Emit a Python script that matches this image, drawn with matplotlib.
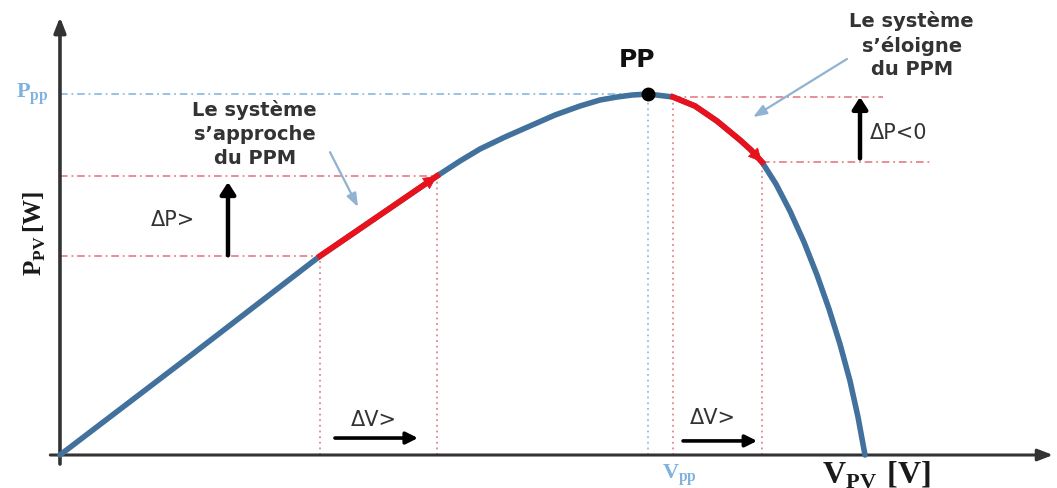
import matplotlib
matplotlib.use("Agg")
import matplotlib.pyplot as plt

# P-V characteristic of a PV generator (normalised: V / Voc, P / Ppp)
v_pv = [0.0, 0.1615, 0.3230, 0.3975, 0.4683, 0.4969, 0.5217, 0.5528,
        0.5839, 0.6149, 0.6460, 0.6708, 0.6919, 0.7106, 0.7304, 0.7615,
        0.7888, 0.8161, 0.8447, 0.8584, 0.8720, 0.8894, 0.9068, 0.9242,
        0.9404, 0.9553, 0.9689, 0.9814, 0.9913, 1.0]
p_pv = [0.0, 0.2742, 0.5512, 0.6648, 0.7729, 0.8144, 0.8476, 0.8809,
        0.9114, 0.9418, 0.9668, 0.9834, 0.9917, 0.9972, 1.0, 0.9917,
        0.9668, 0.9252, 0.8726, 0.8449, 0.8116, 0.7507, 0.6759, 0.5900,
        0.4986, 0.4044, 0.3075, 0.2050, 0.1053, 0.0]

# index of the maximum power point and of the two perturbation steps
i_pp = 14
step_left = (2, 4)     # the system approaches the MPP
step_right = (15, 20)  # the system moves away from the MPP

curve_color = "#41719c"
red = "#e8121c"
guide_red = "#e0707a"
guide_blue = "#7fb2de"
pointer = "#8fb3d1"
ink = "#333333"

plt.rcParams["mathtext.fontset"] = "custom"
plt.rcParams["mathtext.rm"] = "Liberation Serif"
plt.rcParams["mathtext.bf"] = "Liberation Serif:bold"
sans = ["DejaVu Sans"]

fig = plt.figure(figsize=(10.57, 4.89), dpi=100)
ax = fig.add_axes([0, 0, 1, 1])
ax.set_xlim(-0.0745, 1.2385)
ax.set_ylim(-0.0914, 1.2632)
ax.axis("off")

# axes with arrow heads
ax.annotate("", xy=(1.2335, 0), xytext=(-0.012, 0),
            arrowprops=dict(arrowstyle="-|>,head_length=0.9,head_width=0.35",
                            color="#333333", lw=2.2, shrinkA=0, shrinkB=0))
ax.annotate("", xy=(0, 1.213), xytext=(0, -0.025),
            arrowprops=dict(arrowstyle="-|>,head_length=0.9,head_width=0.35",
                            color="#333333", lw=2.6, shrinkA=0, shrinkB=0))

guide = dict(color=guide_red, lw=1.1, ls=(0, (5, 2.5, 1.2, 2.5)), zorder=1)
vguide = dict(color=guide_red, lw=1.1, ls=(0, (1.2, 2.5)), zorder=1)

# guides of the left step
for i in step_left:
    ax.plot([0, v_pv[i]], [p_pv[i], p_pv[i]], **guide)
    ax.plot([v_pv[i], v_pv[i]], [0, p_pv[i]], **vguide)

# guides of the right step
a, b = step_right
ax.plot([v_pv[a], 1.022], [p_pv[a], p_pv[a]], **guide)
ax.plot([v_pv[b], 1.081], [p_pv[b], p_pv[b]], **guide)
ax.plot([v_pv[a], v_pv[a]], [0, p_pv[a]], **vguide)
ax.plot([v_pv[b], v_pv[b]], [0, p_pv[b]], **vguide)

# maximum power point guides
ax.plot([0, v_pv[i_pp]], [p_pv[i_pp], p_pv[i_pp]], color=guide_blue, lw=1.1,
        ls=(0, (5, 2.5, 1.2, 2.5)), zorder=1)
ax.plot([v_pv[i_pp], v_pv[i_pp]], [0, p_pv[i_pp]], color=guide_blue, lw=1.1,
        ls=(0, (1.2, 2.5)), zorder=1)

# P-V curve
ax.plot(v_pv, p_pv, color=curve_color, lw=4, solid_capstyle="round",
        solid_joinstyle="round", zorder=3)

# perturbation steps in red with arrow heads
for a, b in (step_left, step_right):
    ax.plot(v_pv[a:b + 1], p_pv[a:b + 1], color=red, lw=4.2,
            solid_joinstyle="round", zorder=4)
    vx0 = v_pv[b - 1] + 0.5 * (v_pv[b] - v_pv[b - 1])
    py0 = p_pv[b - 1] + 0.5 * (p_pv[b] - p_pv[b - 1])
    ax.annotate("", xy=(v_pv[b], p_pv[b]), xytext=(vx0, py0),
                arrowprops=dict(arrowstyle="-|>,head_length=0.9,head_width=0.45",
                                color=red, lw=0.5, shrinkA=0, shrinkB=0), zorder=5)

# maximum power point
ax.plot([v_pv[i_pp]], [p_pv[i_pp]], "o", color="black", ms=9, zorder=6)
ax.text(0.7168, 1.097, "PP", ha="center", va="center",
        fontsize=18, fontweight="bold", family=sans, color="#111111")

# delta P arrows
big_arrow = dict(arrowstyle="-|>,head_length=0.7,head_width=0.45",
                 color="black", lw=3.2, shrinkA=0, shrinkB=0)
ax.annotate("", xy=(0.2087, 0.756), xytext=(0.2087, p_pv[2] + 0.002),
            arrowprops=big_arrow)
ax.text(0.140, 0.654, "ΔP>", ha="center", va="center", fontsize=15,
        family=sans, color=ink)
ax.annotate("", xy=(0.9938, p_pv[15]), xytext=(0.9938, p_pv[20] + 0.01),
            arrowprops=big_arrow)
ax.text(1.006, 0.895, "ΔP<0", ha="left", va="center", fontsize=15,
        family=sans, color=ink)

# delta V arrows
dv_arrow = dict(arrowstyle="-|>,head_length=0.7,head_width=0.35",
                color="black", lw=2.6, shrinkA=0, shrinkB=0)
ax.annotate("", xy=(0.4447, 0.047), xytext=(0.3416, 0.047),
            arrowprops=dv_arrow)
ax.text(0.390, 0.100, "ΔV>", ha="center", va="center", fontsize=15,
        family=sans, color=ink)
ax.annotate("", xy=(0.866, 0.039), xytext=(0.774, 0.039),
            arrowprops=dv_arrow)
ax.text(0.811, 0.105, "ΔV>", ha="center", va="center", fontsize=15,
        family=sans, color=ink)

# explanatory notes with pointers
ax.text(0.242, 0.892, "Le système\ns’approche\ndu PPM", ha="center",
        va="center", fontsize=14, fontweight="bold", family=sans,
        color=ink, linespacing=1.35)
ax.annotate("", xy=(0.3702, 0.687), xytext=(0.3354, 0.839),
            arrowprops=dict(arrowstyle="-|>,head_length=0.8,head_width=0.3",
                            color=pointer, lw=1.6, shrinkA=0, shrinkB=0))
ax.text(1.058, 1.138, "Le système\ns’éloigne\ndu PPM", ha="center",
        va="center", fontsize=14, fontweight="bold", family=sans,
        color=ink, linespacing=1.3)
ax.annotate("", xy=(0.8609, 0.936), xytext=(0.9776, 1.097),
            arrowprops=dict(arrowstyle="-|>,head_length=0.8,head_width=0.3",
                            color=pointer, lw=1.6, shrinkA=0, shrinkB=0))

# axis labels
ax.text(-0.0348, p_pv[i_pp], r"$\mathbf{P}_{\mathbf{pp}}$", ha="center",
        va="center", fontsize=16, color=guide_blue)
ax.text(0.770, -0.055, r"$\mathbf{V}_{\mathbf{pp}}$", ha="center",
        va="center", fontsize=16, color=guide_blue)
ax.text(-0.031, 0.618, r"$\mathbf{P}_{\mathbf{PV}}\,\mathbf{[W]}$",
        ha="center", va="center", fontsize=18, rotation=90, color="#1a1a1a")
ax.text(1.0137, -0.053, r"$\mathbf{V}_{\mathbf{PV}}$ $\mathbf{[V]}$",
        ha="center", va="center", fontsize=23, color="#1a1a1a")

fig.savefig("out.png", dpi=100, facecolor="white")
